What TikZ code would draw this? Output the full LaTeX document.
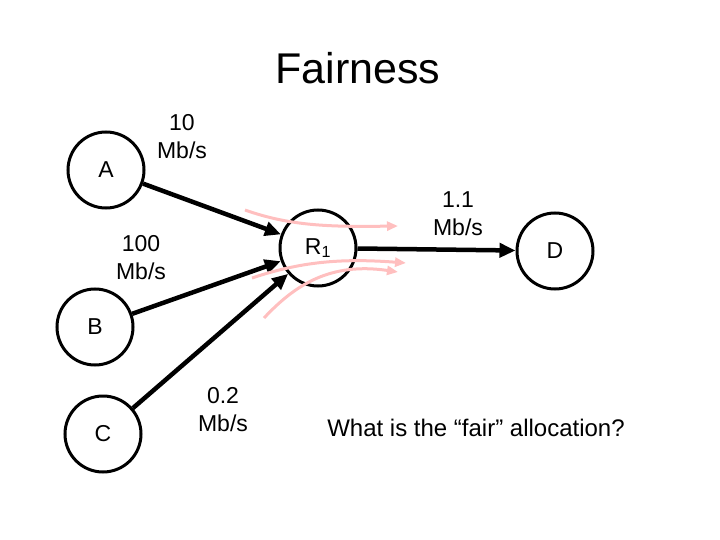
\documentclass[tikz,border=0pt]{standalone}
\usepackage{fontspec}
\setmainfont{Liberation Sans}
\usetikzlibrary{arrows.meta}

\begin{document}
\begin{tikzpicture}[x=1pt, y=-1pt,
    host/.style={draw, circle, line width=3pt, minimum size=76pt, inner sep=0pt,
        font=\fontsize{23}{28}\selectfont},
    link/.style={line width=4.5pt, -{Triangle[length=16pt, width=14pt]}},
    rate/.style={align=center, font=\fontsize{23}{28}\selectfont},
    flow/.style={line width=3pt, draw=red!25, -{Triangle[length=11pt, width=9pt]}}]
    \useasboundingbox (0,0) rectangle (720,540);

    \node (title) at (358,68) {\fontsize{43}{50}\selectfont Fairness};

    \node (A) [host] at (106,170) {A};
    \node (B) [host] at (95,327) {B};
    \node (C) [host] at (103,434) {C};
    \node (R1) [host] at (318,248) {R\textsubscript{1}};
    \node (D) [host] at (555,251) {D};

    \draw[link] (A) -- (R1);
    \draw[link] (B) -- (R1);
    \draw[link] (C) -- (R1);
    \draw[link] (R1) -- (D);

    \node (rateA) [rate] at (182,137) {10\\Mb/s};
    \node (rateB) [rate] at (141,258) {100\\Mb/s};
    \node (rateC) [rate] at (223,410) {0.2\\Mb/s};
    \node (rateD) [rate] at (458,214) {1.1\\Mb/s};

    \node (question) [rate, font=\fontsize{24}{28}\selectfont] at (476,428) {What is the “fair” allocation?};

    % flows through the router
    \coordinate (fa) at (245,210);
    \coordinate (fa') at (398,226);
    \coordinate (fb) at (252,278);
    \coordinate (fb') at (406,263);
    \coordinate (fc) at (264,318);
    \coordinate (fc') at (398,272);
    \draw[flow] (fa) .. controls (290,226) and (330,227) .. (fa');
    \draw[flow] (fb) .. controls (300,262) and (340,258) .. (fb');
    \draw[flow] (fc) .. controls (295,285) and (330,262) .. (fc');
\end{tikzpicture}
\end{document}
